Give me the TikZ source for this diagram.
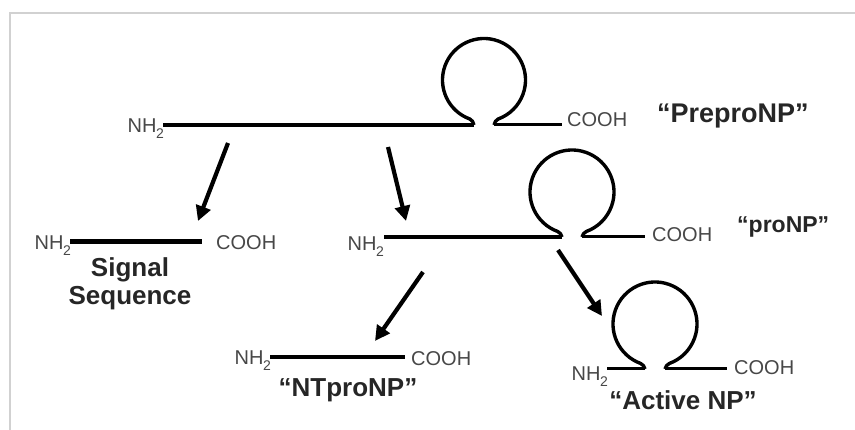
\documentclass[tikz,border=0pt]{standalone}
\usepackage{fontspec}
\setmainfont{Liberation Sans}
\usetikzlibrary{arrows.meta}
\newcommand{\nhtwo}{NH\kern-0.5pt\raisebox{-0.28em}{\fontsize{14}{14}\selectfont 2}}
\tikzset{
  chem/.style={inner sep=0pt, text=black!72, font=\fontsize{20}{20}\selectfont},
  name lbl/.style={inner sep=0pt, text=black!85, font=\bfseries\fontsize{26}{30}\selectfont, align=center},
  lead/.style={line width=4.6pt, line cap=butt},
  loopline/.style={line width=3.4pt, line join=round},
  tail/.style={line width=3pt},
  cut/.style={line width=4.2pt, -{Triangle[width=15pt,length=15pt]}},
  frame/.style={black!18, line width=1.6pt}
}
\begin{document}
\begin{tikzpicture}[x=1pt,y=1pt]
\useasboundingbox (0,0) rectangle (855,-430);
\draw[frame] (10,-430) -- (10,-13) -- (855,-13);

% ---- PreproNP ----
\coordinate (pA) at (163,-125);
\coordinate (pC) at (484,-80);
\coordinate (pL) at (474,-125);
\coordinate (pR) at (494,-125);
\coordinate (pE) at (562,-125);
\node[chem, anchor=base east] (pNH) at (164,-133) {\nhtwo};
\node[chem, anchor=base west] (pCO) at (567,-127) {COOH};
\node[name lbl, anchor=base west, font=\bfseries\fontsize{27}{30}\selectfont] (pName) at (657,-123) {“PreproNP”};
\draw[lead] (pA) -- (pL);
\draw[loopline] (pL) to[out=110,in=-20] ([shift={(250:41.5pt)}]pC)
  arc[start angle=250,end angle=-70,radius=41.5pt]
  to[out=200,in=70] (pR);
\draw[tail] (pR) -- (pE);

% ---- Signal sequence ----
\coordinate (sA) at (70,-242);
\coordinate (sE) at (202,-242);
\node[chem, anchor=base east] (sNH) at (71,-250) {\nhtwo};
\node[chem, anchor=base west] (sCO) at (216,-250) {COOH};
\draw[lead, line width=5pt] (sA) -- (sE);
\node[name lbl, anchor=base] (sName) at (130,-277) {Signal};
\node[name lbl, anchor=base] (sName2) at (130,-305) {Sequence};

% ---- proNP ----
\coordinate (rA) at (384,-237);
\coordinate (rC) at (572,-192);
\coordinate (rL) at (562,-237);
\coordinate (rR) at (582,-237);
\coordinate (rE) at (645,-237);
\node[chem, anchor=base east] (rNH) at (384,-251) {\nhtwo};
\node[chem, anchor=base west] (rCO) at (652,-242) {COOH};
\node[name lbl, anchor=base west, font=\bfseries\fontsize{23}{26}\selectfont] (rName) at (737,-233) {“proNP”};
\draw[lead] (rA) -- (rL);
\draw[loopline] (rL) to[out=110,in=-20] ([shift={(250:42pt)}]rC)
  arc[start angle=250,end angle=-70,radius=42pt]
  to[out=200,in=70] (rR);
\draw[tail] (rR) -- (rE);

% ---- NTproNP ----
\coordinate (nA) at (270,-357);
\coordinate (nE) at (405,-357);
\node[chem, anchor=base east] (nNH) at (271,-365) {\nhtwo};
\node[chem, anchor=base west] (nCO) at (411,-366) {COOH};
\draw[lead] (nA) -- (nE);
\node[name lbl, anchor=base] (nName) at (348,-397) {“NTproNP”};

% ---- Active NP ----
\coordinate (aA) at (607,-369);
\coordinate (aC) at (655,-324);
\coordinate (aL) at (645,-369);
\coordinate (aR) at (665,-369);
\coordinate (aE) at (727,-369);
\node[chem, anchor=base east] (aNH) at (608,-381) {\nhtwo};
\node[chem, anchor=base west] (aCO) at (734,-375) {COOH};
\node[name lbl, anchor=base] (aName) at (683,-410) {“Active NP”};
\draw[tail] (aA) -- (aL);
\draw[loopline] (aL) to[out=110,in=-20] ([shift={(250:42pt)}]aC)
  arc[start angle=250,end angle=-70,radius=42pt]
  to[out=200,in=70] (aR);
\draw[tail] (aR) -- (aE);

% ---- cleavage arrows ----
\coordinate (c1s) at (228,-143);
\coordinate (c1e) at (198,-221);
\coordinate (c2s) at (388,-147);
\coordinate (c2e) at (406,-221);
\coordinate (c3s) at (423,-272);
\coordinate (c3e) at (375,-341);
\coordinate (c4s) at (558,-250);
\coordinate (c4e) at (602,-316);
\draw[cut] (c1s) -- (c1e);
\draw[cut] (c2s) -- (c2e);
\draw[cut] (c3s) -- (c3e);
\draw[cut] (c4s) -- (c4e);
\end{tikzpicture}
\end{document}
